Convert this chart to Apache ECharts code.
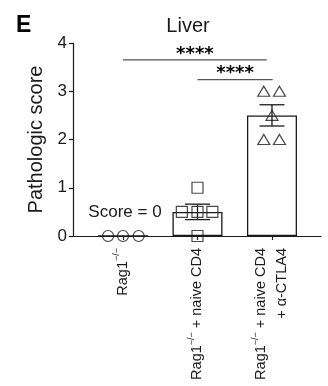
<!DOCTYPE html>
<html><head><meta charset="utf-8">
<script src="https://cdn.jsdelivr.net/npm/echarts@6/dist/echarts.min.js"></script>
<style>html,body{margin:0;padding:0;background:#fff}#c{width:328px;height:386px}</style>
</head><body><div id="c"></div>
<script>
// ---- data ----
const categories = ['Rag1−/−', 'Rag1−/− + naive CD4', 'Rag1−/− + naive CD4\n+ α-CTLA4'];
const yTicks = [0, 1, 2, 3, 4];
const means = [0, 0.5, 2.5];
const sems = [0, 0.16, 0.22];
const g0Values = [0, 0, 0];
const g0Jitter = [-0.2, 0, 0.21];
const g1Values = [0, 0.5, 0.5, 0.5, 1];
const g1Jitter = [0, -0.21, 0, 0.2, 0];
const g2Values = [3, 3, 2.5, 2, 2];
const g2Jitter = [-0.11, 0.1, 0, -0.11, 0.1];
const sigStart = [0, 1];
const sigEnd = [1.93, 2.01];
const sigLevel = [3.65, 3.24];
const sigText = ['****', '****'];
const noteText = 'Score = 0';
const notePos = [0, 0.5];

// ---- chart ----
const FONT = 'Liberation Sans, Arial, Helvetica, sans-serif';
const INK = '#1a1a1a';
const chart = echarts.init(document.getElementById('c'), null, {renderer: 'canvas'});

function pts(vals, jit, g) { return vals.map((v, i) => [g + jit[i], v]); }
const scatterStyle = {color: 'rgba(0,0,0,0)', borderColor: INK, borderWidth: 1.2};

chart.setOption({
  animation: false,
  backgroundColor: '#fff',
  textStyle: {fontFamily: FONT, color: INK},
  grid: {left: 73, right: 7, top: 43, bottom: 150, containLabel: false},
  graphic: [
    {type: 'text', left: 16, top: 14, style: {text: 'E', font: 'bold 23px ' + FONT, fill: '#000'}},
    {type: 'text', x: 188, y: 26, style: {text: 'Liver', font: '20px ' + FONT, fill: INK, align: 'center', verticalAlign: 'middle'}}
  ],
  xAxis: {
    type: 'value', min: -0.671, max: 2.658,
    splitLine: {show: false},
    axisLine: {show: true, onZero: false, lineStyle: {color: INK, width: 1.2}},
    axisTick: {show: true, customValues: [0, 1, 2], length: 4, lineStyle: {color: INK, width: 1.2}},
    axisLabel: {
      show: true, customValues: [0, 1, 2], rotate: 90, margin: 12,
      fontSize: 14.5, fontFamily: FONT, color: INK, lineHeight: 21,
      formatter: v => categories[Math.round(v)].replace('−/−', '{s|−/−}'),
      rich: {s: {fontSize: 9, verticalAlign: 'top', fontFamily: FONT, color: INK, lineHeight: 21}}
    }
  },
  yAxis: {
    type: 'value', min: yTicks[0], max: yTicks[yTicks.length - 1], interval: 1,
    name: 'Pathologic score', nameLocation: 'middle', nameGap: 24,
    nameTextStyle: {fontSize: 20, fontFamily: FONT, color: INK},
    splitLine: {show: false},
    axisLine: {show: true, onZero: false, lineStyle: {color: INK, width: 1.2}},
    axisTick: {show: true, length: 4, lineStyle: {color: INK, width: 1.2}},
    axisLabel: {fontSize: 17, fontFamily: FONT, color: INK, margin: 6}
  },
  series: [
    {
      type: 'bar', barWidth: 50, z: 2, silent: true,
      data: means.map((m, i) => [i, m]),
      itemStyle: {color: '#fff', borderColor: INK, borderWidth: 1.3}
    },
    {
      type: 'custom', z: 3, silent: true,
      data: means.map((m, i) => [i, m, sems[i]]),
      renderItem: (params, api) => {
        const x = api.value(0), m = api.value(1), s = api.value(2);
        if (s <= 0) return null;
        const top = api.coord([x, m + s]), bot = api.coord([x, m - s]);
        const hw = 12.5;
        const st = {stroke: INK, lineWidth: 1.3};
        return {type: 'group', children: [
          {type: 'line', shape: {x1: top[0], y1: top[1], x2: bot[0], y2: bot[1]}, style: st},
          {type: 'line', shape: {x1: top[0] - hw, y1: top[1], x2: top[0] + hw, y2: top[1]}, style: st},
          {type: 'line', shape: {x1: bot[0] - hw, y1: bot[1], x2: bot[0] + hw, y2: bot[1]}, style: st}
        ]};
      }
    },
    {type: 'scatter', z: 4, silent: true, symbol: 'circle', symbolSize: 11, data: pts(g0Values, g0Jitter, 0), itemStyle: scatterStyle},
    {type: 'scatter', z: 4, silent: true, symbol: 'rect', symbolSize: 11, data: pts(g1Values, g1Jitter, 1), itemStyle: scatterStyle},
    {type: 'scatter', z: 4, silent: true, symbol: 'triangle', symbolSize: [12, 10], data: pts(g2Values, g2Jitter, 2), itemStyle: scatterStyle},
    {
      type: 'custom', z: 5, silent: true, clip: false,
      data: sigStart.map((s, i) => [s, sigEnd[i], sigLevel[i], i]),
      renderItem: (params, api) => {
        const a = api.coord([api.value(0), api.value(2)]);
        const b = api.coord([api.value(1), api.value(2)]);
        return {type: 'group', children: [
          {type: 'line', shape: {x1: a[0], y1: a[1], x2: b[0], y2: a[1]}, style: {stroke: '#555', lineWidth: 1.3}},
          {type: 'text', x: (a[0] + b[0]) / 2, y: a[1] - 6, style: {text: sigText[api.value(3)], font: 'bold 18px DejaVu Sans', fill: '#000', align: 'center', verticalAlign: 'middle'}}
        ]};
      }
    },
    {
      type: 'custom', z: 5, silent: true, clip: false,
      data: [notePos],
      renderItem: (params, api) => {
        const p = api.coord([api.value(0), api.value(1)]);
        return {type: 'text', x: p[0] + 2, y: p[1], style: {text: noteText, font: '17px ' + FONT, fill: INK, align: 'center', verticalAlign: 'middle'}};
      }
    }
  ]
});
</script>
</body></html>
